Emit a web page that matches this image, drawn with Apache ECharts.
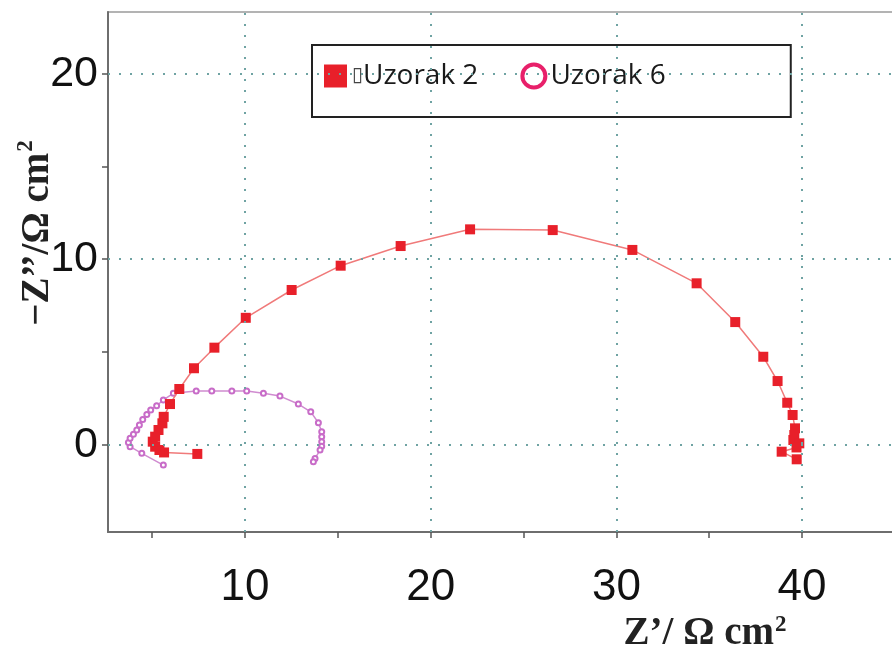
<!DOCTYPE html>
<html><head><meta charset="utf-8">
<script src="https://cdn.jsdelivr.net/npm/echarts@6/dist/echarts.min.js"></script>
<style>html,body{margin:0;padding:0;background:#fff}#c{width:892px;height:648px}</style>
</head><body><div id="c"></div>
<script>
const seriesNames = ['Uzorak 2', 'Uzorak 6'];
const u2Re = [7.43,5.64,5.39,5.16,5.03,5.16,5.34,5.55,5.62,5.96,6.46,7.25,8.35,10.04,12.51,15.15,18.38,22.12,26.57,30.86,34.32,36.40,37.91,38.68,39.20,39.49,39.62,39.58,39.53,39.85,39.70,38.90,39.71];
const u2Im = [-0.50,-0.42,-0.29,-0.11,0.16,0.43,0.79,1.15,1.50,2.19,3.00,4.12,5.23,6.84,8.34,9.65,10.71,11.61,11.57,10.50,8.70,6.61,4.74,3.43,2.26,1.60,0.88,0.52,0.25,0.07,-0.15,-0.38,-0.79];
const u6Re = [5.60,4.44,3.81,3.72,3.81,3.99,4.17,4.31,4.49,4.71,4.92,5.24,5.60,6.14,7.37,8.21,9.29,10.09,10.99,11.88,12.87,13.54,13.95,14.13,14.13,14.13,14.13,14.04,13.77,13.68];
const u6Im = [-1.10,-0.47,-0.11,0.12,0.34,0.56,0.79,1.06,1.36,1.63,1.87,2.10,2.41,2.77,2.89,2.89,2.89,2.89,2.77,2.62,2.19,1.77,1.18,0.70,0.43,0.16,-0.08,-0.29,-0.74,-0.92];
const xLabelValues = [10, 20, 30, 40];
const xTickValues = [5, 10, 15, 20, 25, 30, 35, 40];
const yLabelValues = [0, 10, 20];
const yTickValues = [0, 5, 10, 15, 20];
const xGridValues = [10, 20, 30, 40];
const yGridValues = [0, 10, 20];
const xTitle = ['Z’/ Ω cm', '2'];
const yTitle = ['−Z’’/Ω cm', '2'];

const pairs = (a, b) => a.map((v, i) => [v, b[i]]);
const titleRich = (supRaise) => ({
  a: {fontFamily: 'Liberation Serif', fontWeight: 'bold', fontSize: 39, color: '#222'},
  s: {fontFamily: 'Liberation Serif', fontWeight: 'bold', fontSize: 23, color: '#222', padding: [0, 0, supRaise, 1]}
});

const chart = echarts.init(document.getElementById('c'), null, {renderer: 'canvas'});
chart.setOption({
  animation: false,
  backgroundColor: '#fff',
  grid: {left: 108, top: 12, right: -2, bottom: 116, outerBoundsMode: 'none', containLabel: false,
    show: true, borderColor: '#9a9a9a', borderWidth: 1.5, backgroundColor: 'transparent'},
  legend: {
    left: 312, top: 45,
    padding: [17, 125, 27, 12],
    borderColor: '#222', borderWidth: 2, backgroundColor: '#fff',
    itemGap: 42, itemWidth: 23, itemHeight: 23,
    textStyle: {fontFamily: 'Open Sans', fontSize: 28, color: '#1a1a1a', lineHeight: 28,
      rich: {t: {fontFamily: 'DejaVu Sans', fontSize: 20, color: '#444', lineHeight: 28}}},
    formatter: function (n) { return n === seriesNames[0] ? '{t|\u25AF}' + n : n; },
    data: [
      {name: seriesNames[0], icon: 'rect', itemStyle: {color: '#e8202a', borderWidth: 0}},
      {name: seriesNames[1], icon: 'circle', itemStyle: {color: '#fff', borderColor: '#e8206a', borderWidth: 4}}
    ]
  },
  xAxis: {
    type: 'value', min: 2.62, max: 44.95,
    name: '{a|' + xTitle[0] + '}{s|' + xTitle[1] + '}', nameLocation: 'middle', nameGap: 82,
    nameMoveOverlap: false,
    nameTextStyle: {padding: [0, 0, 0, 408], rich: titleRich(16)},
    axisLine: {show: true, onZero: false, lineStyle: {color: '#6e6e6e', width: 2}},
    axisTick: {show: true, customValues: xTickValues, length: 6, lineStyle: {color: '#555', width: 1.5}},
    axisLabel: {customValues: xLabelValues, fontFamily: 'Liberation Sans', fontSize: 44, color: '#111', margin: 34},
    splitLine: {show: false}
  },
  yAxis: {
    type: 'value', min: -4.71, max: 23.33,
    name: '{a|' + yTitle[0] + '}{s|' + yTitle[1] + '}', nameLocation: 'middle', nameGap: 48, nameRotate: 90,
    nameMoveOverlap: false,
    nameTextStyle: {padding: [0, 0, 0, 78], rich: titleRich(22)},
    axisLine: {show: true, onZero: false, lineStyle: {color: '#6e6e6e', width: 2}},
    axisTick: {show: true, customValues: yTickValues, length: 6, lineStyle: {color: '#555', width: 1.5}},
    axisLabel: {customValues: yLabelValues, fontFamily: 'Liberation Sans', fontSize: 43, color: '#111', margin: 10},
    splitLine: {show: false}
  },
  series: [
    {
      name: 'grid', type: 'line', data: [], z: 1, silent: true,
      markLine: {
        silent: true, symbol: ['none', 'none'], label: {show: false},
        lineStyle: {color: '#6fa3a3', type: [2, 9], width: 2},
        data: xGridValues.map(v => ({xAxis: v})).concat(yGridValues.map(v => ({yAxis: v})))
      }
    },
    {
      name: seriesNames[1], type: 'line', data: pairs(u6Re, u6Im), z: 3,
      symbol: 'emptyCircle', symbolSize: 5, showAllSymbol: true,
      itemStyle: {color: '#c86cc8', borderWidth: 1},
      lineStyle: {color: '#d08cd0', width: 1.5}
    },
    {
      name: seriesNames[0], type: 'line', data: pairs(u2Re, u2Im), z: 4,
      symbol: 'rect', symbolSize: 10, showAllSymbol: true,
      itemStyle: {color: '#e8202a'},
      lineStyle: {color: '#f07a7a', width: 1.5}
    }
  ]
});
</script></body></html>
